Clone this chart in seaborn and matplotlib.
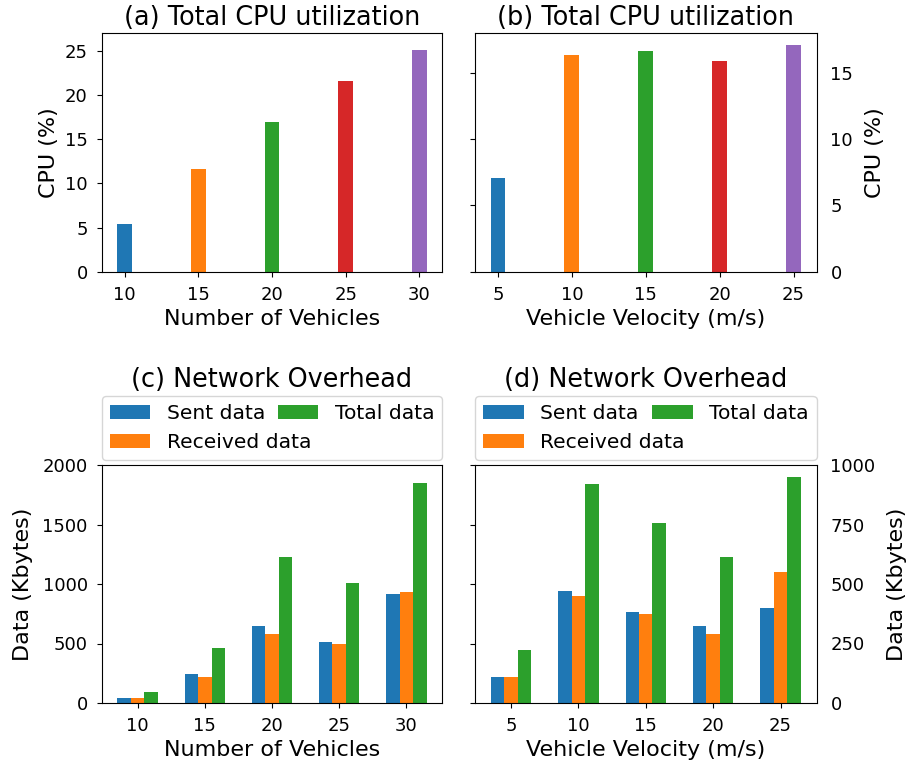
import pandas as pd
import matplotlib
matplotlib.use("Agg")
import matplotlib.pyplot as plt
import seaborn as sns

# CPU utilisation vs number of vehicles / velocity
vehicles = ["10", "15", "20", "25", "30"]
cpu_vehicles = [5.4, 11.6, 17.0, 21.6, 25.1]

velocity = ["5", "10", "15", "20", "25"]
cpu_velocity = [7.1, 16.3, 16.6, 15.9, 17.1]

# Network overhead (Kbytes)
series_names = ["Sent data", "Received data", "Total data"]
sent_vehicles = [44, 240, 649, 514, 912]
recv_vehicles = [45, 221, 576, 495, 931]
total_vehicles = [92, 461, 1227, 1012, 1848]

sent_velocity = [110, 470, 383, 322, 400]
recv_velocity = [110, 449, 372, 292, 551]
total_velocity = [222, 921, 756, 613, 950]

colors = sns.color_palette("tab10")

TICK = 13
LABEL = 16
TITLE = 18.4
LEG = 14.6

plt.rcParams["xtick.labelsize"] = TICK
plt.rcParams["ytick.labelsize"] = TICK
plt.rcParams["xtick.major.pad"] = 6.5
plt.rcParams["ytick.major.pad"] = 6.5


def long_table(xs, sent, recv, total):
    rows = []
    for name, vals in zip(series_names, [sent, recv, total]):
        for x, v in zip(xs, vals):
            rows.append({"x": x, "series": name, "value": v})
    return pd.DataFrame(rows)


fig, axes = plt.subplots(2, 2, figsize=(9.06, 7.7), dpi=100)
ax_a, ax_b = axes[0]
ax_c, ax_d = axes[1]

# (a)
sns.barplot(x=vehicles, y=cpu_vehicles, hue=vehicles, palette=colors[:5],
            width=0.2, saturation=1, linewidth=0, legend=False, ax=ax_a)
ax_a.set_xlim(-0.31, 4.31)
ax_a.set_ylim(0, 27)
ax_a.set_yticks([0, 5, 10, 15, 20, 25])
ax_a.set_title("(a) Total CPU utilization", fontsize=TITLE)
ax_a.set_xlabel("Number of Vehicles", fontsize=LABEL)
ax_a.set_ylabel("CPU (%)", fontsize=LABEL)

# (b)
sns.barplot(x=velocity, y=cpu_velocity, hue=velocity, palette=colors[:5],
            width=0.2, saturation=1, linewidth=0, legend=False, ax=ax_b)
ax_b.set_xlim(-0.31, 4.31)
ax_b.set_ylim(0, 17.97)
ax_b.set_yticks([0, 5, 10, 15])
ax_b.tick_params(axis="y", labelleft=False, labelright=True)
ax_b.yaxis.set_label_position("right")
ax_b.set_title("(b) Total CPU utilization", fontsize=TITLE)
ax_b.set_xlabel("Vehicle Velocity (m/s)", fontsize=LABEL)
ax_b.set_ylabel("CPU (%)", fontsize=LABEL, labelpad=8.5)

# (c)
df_c = long_table(vehicles, sent_vehicles, recv_vehicles, total_vehicles)
sns.barplot(data=df_c, x="x", y="value", hue="series", palette=colors[:3],
            width=0.6, saturation=1, linewidth=0, ax=ax_c)
ax_c.set_xlim(-0.534, 4.534)
ax_c.set_ylim(0, 2000)
ax_c.set_yticks([0, 500, 1000, 1500, 2000])
ax_c.set_title("(c) Network Overhead", fontsize=TITLE, pad=56)
ax_c.set_xlabel("Number of Vehicles", fontsize=LABEL)
ax_c.set_ylabel("Data (Kbytes)", fontsize=LABEL, labelpad=7)

# (d)
df_d = long_table(velocity, sent_velocity, recv_velocity, total_velocity)
sns.barplot(data=df_d, x="x", y="value", hue="series", palette=colors[:3],
            width=0.6, saturation=1, linewidth=0, ax=ax_d)
ax_d.set_xlim(-0.534, 4.534)
ax_d.set_ylim(0, 1000)
ax_d.set_yticks([0, 250, 500, 750, 1000])
ax_d.tick_params(axis="y", labelleft=False, labelright=True)
ax_d.yaxis.set_label_position("right")
ax_d.set_title("(d) Network Overhead", fontsize=TITLE, pad=56)
ax_d.set_xlabel("Vehicle Velocity (m/s)", fontsize=LABEL)
ax_d.set_ylabel("Data (Kbytes)", fontsize=LABEL, labelpad=8)

for ax in (ax_c, ax_d):
    sns.move_legend(ax, "lower left", bbox_to_anchor=(0, 1.021, 1, 0.1),
                    ncol=2, mode="expand", borderaxespad=0,
                    title=None, fontsize=LEG)

# place axes like the reference
W, H = 906, 770
def place(ax, left, right, top, bottom):
    ax.set_position([left / W, 1 - bottom / H, (right - left) / W, (bottom - top) / H])

place(ax_a, 101.7, 442.3, 33.3, 271.7)
place(ax_b, 475, 816.5, 33.3, 271.7)
place(ax_c, 101.7, 442.3, 465, 703)
place(ax_d, 475, 816.5, 465, 703)

plt.savefig("out.png", dpi=100)
